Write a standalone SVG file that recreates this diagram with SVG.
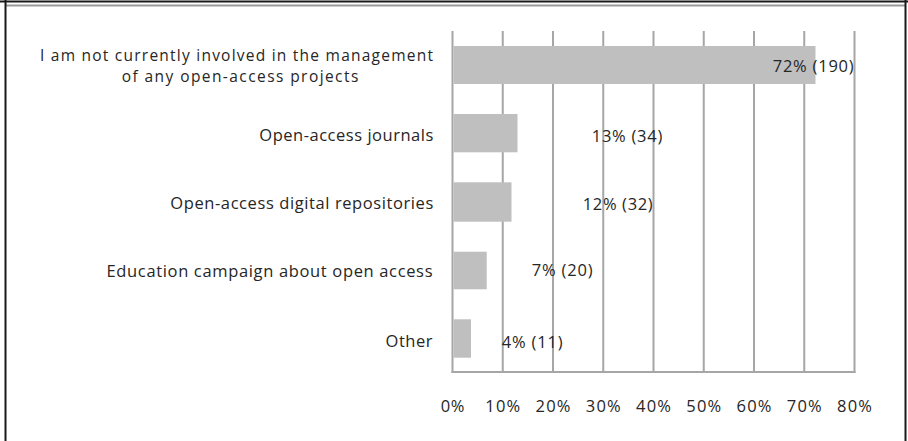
<svg xmlns="http://www.w3.org/2000/svg" width="908" height="441" viewBox="0 0 908 441">
<style>
  text { font-family: "Open Sans", "Liberation Sans", sans-serif; font-size: 16.5px; fill: #262626; }
  .two { font-size: 15.5px; }
  .cat { text-anchor: end; }
  .tick { text-anchor: middle; }
  .grid { stroke: #a6a6a6; stroke-width: 2; }
  .bar { fill: #bfbfbf; }
</style>
<rect width="908" height="441" fill="#ffffff"/>
<g id="frame">
  <line x1="0" y1="1.5" x2="908" y2="1.5" stroke="#1a1a1a" stroke-width="2"/>
  <line x1="6" y1="5.5" x2="905" y2="5.5" stroke="#999999" stroke-width="2"/>
  <line x1="5.5" y1="0" x2="5.5" y2="441" stroke="#1a1a1a" stroke-width="2"/>
  <line x1="905.5" y1="0" x2="905.5" y2="441" stroke="#1a1a1a" stroke-width="2"/>
</g>
<g id="gridlines">
  <line class="grid" x1="452.5" y1="31" x2="452.5" y2="373"/>
  <line class="grid" x1="502.75" y1="31" x2="502.75" y2="372"/>
  <line class="grid" x1="553" y1="31" x2="553" y2="372"/>
  <line class="grid" x1="603.25" y1="31" x2="603.25" y2="372"/>
  <line class="grid" x1="653.5" y1="31" x2="653.5" y2="372"/>
  <line class="grid" x1="703.75" y1="31" x2="703.75" y2="372"/>
  <line class="grid" x1="754" y1="31" x2="754" y2="372"/>
  <line class="grid" x1="804.25" y1="31" x2="804.25" y2="372"/>
  <line class="grid" x1="854.5" y1="31" x2="854.5" y2="373"/>
  <line class="grid" x1="451.5" y1="372" x2="855.5" y2="372"/>
</g>
<g id="bar-1">
  <rect class="bar" x="453.5" y="46" width="362" height="38"/>
  <text class="two" x="40" y="60.5" textLength="393" lengthAdjust="spacing">I am not currently involved in the management</text>
  <text class="two" x="121.7" y="82" textLength="236.6" lengthAdjust="spacing">of any open-access projects</text>
  <text x="772.7" y="71.7" textLength="81" lengthAdjust="spacing">72% (190)</text>
</g>
<g id="bar-2">
  <rect class="bar" x="453.5" y="114" width="64" height="38.3"/>
  <text class="cat" x="433.3" y="140.7" textLength="174" lengthAdjust="spacing">Open-access journals</text>
  <text x="591.7" y="141.7" textLength="70.6" lengthAdjust="spacing">13% (34)</text>
</g>
<g id="bar-3">
  <rect class="bar" x="453.5" y="182.3" width="58" height="39.4"/>
  <text class="cat" x="433.3" y="208.5" textLength="263" lengthAdjust="spacing">Open-access digital repositories</text>
  <text x="582.7" y="210" textLength="70" lengthAdjust="spacing">12% (32)</text>
</g>
<g id="bar-4">
  <rect class="bar" x="453.5" y="251.7" width="33.2" height="37.6"/>
  <text class="cat" x="432.5" y="276.7" textLength="326" lengthAdjust="spacing">Education campaign about open access</text>
  <text x="531.7" y="275.7" textLength="61" lengthAdjust="spacing">7% (20)</text>
</g>
<g id="bar-5">
  <rect class="bar" x="453.5" y="319.3" width="17.5" height="38.4"/>
  <text class="cat" x="432.5" y="346.7" textLength="47" lengthAdjust="spacing">Other</text>
  <text x="501.7" y="348" textLength="61" lengthAdjust="spacing">4% (11)</text>
</g>
<g id="axis-labels">
  <text class="tick" x="452.5" y="412.3" textLength="23.6" lengthAdjust="spacing">0%</text>
  <text class="tick" x="502.75" y="412.3" textLength="35" lengthAdjust="spacing">10%</text>
  <text class="tick" x="553" y="412.3" textLength="35" lengthAdjust="spacing">20%</text>
  <text class="tick" x="603.25" y="412.3" textLength="35" lengthAdjust="spacing">30%</text>
  <text class="tick" x="653.5" y="412.3" textLength="35" lengthAdjust="spacing">40%</text>
  <text class="tick" x="703.75" y="412.3" textLength="35" lengthAdjust="spacing">50%</text>
  <text class="tick" x="754" y="412.3" textLength="35" lengthAdjust="spacing">60%</text>
  <text class="tick" x="804.25" y="412.3" textLength="35" lengthAdjust="spacing">70%</text>
  <text class="tick" x="854.5" y="412.3" textLength="35" lengthAdjust="spacing">80%</text>
</g>
</svg>
